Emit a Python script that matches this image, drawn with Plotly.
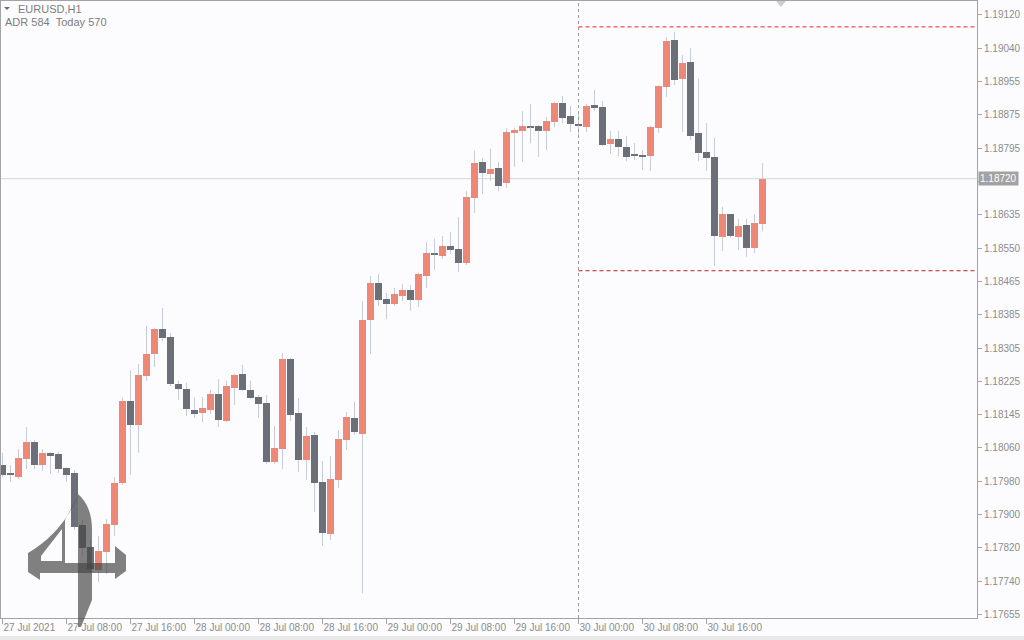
import numpy as np
import plotly.graph_objects as go

# ---------------- data ----------------
symbol = "EURUSD,H1"
adr_points = 584
today_points = 570
point = 0.00001

x_labels = ["27 Jul 2021", "27 Jul 08:00", "27 Jul 16:00", "28 Jul 00:00", "28 Jul 08:00",
            "28 Jul 16:00", "29 Jul 00:00", "29 Jul 08:00", "29 Jul 16:00", "30 Jul 00:00",
            "30 Jul 08:00", "30 Jul 16:00"]
y_labels = ["1.17655", "1.17740", "1.17820", "1.17900", "1.17980", "1.18060", "1.18145",
            "1.18225", "1.18305", "1.18385", "1.18465", "1.18550", "1.18635", "",
            "1.18795", "1.18875", "1.18955", "1.19040", "1.19120"]

opens = [1.18020, 1.18001, 1.17991, 1.18035, 1.18076, 1.18020, 1.18050, 1.18047, 1.18013, 1.18001,
         1.17874, 1.17820, 1.17764, 1.17808, 1.17874, 1.17976, 1.18177, 1.18118, 1.18238, 1.18292,
         1.18353, 1.18333, 1.18218, 1.18206, 1.18155, 1.18147, 1.18155, 1.18194, 1.18128, 1.18208,
         1.18243, 1.18204, 1.18186, 1.18172, 1.18028, 1.18059, 1.18279, 1.18147, 1.18032, 1.18094,
         1.17979, 1.17852, 1.17984, 1.18081, 1.18135, 1.18096, 1.18375, 1.18465, 1.18426, 1.18414,
         1.18433, 1.18448, 1.18424, 1.18482, 1.18536, 1.18531, 1.18556, 1.18548, 1.18514, 1.18673,
         1.18761, 1.18731, 1.18746, 1.18709, 1.18832, 1.18837, 1.18849, 1.18849, 1.18837, 1.18859,
         1.18905, 1.18873, 1.18854, 1.18846, 1.18900, 1.18895, 1.18805, 1.18817, 1.18797, 1.18780,
         1.18778, 1.18775, 1.18844, 1.18944, 1.19059, 1.18964, 1.19005, 1.18832, 1.18785, 1.18773,
         1.18578, 1.18634, 1.18578, 1.18607, 1.18551, 1.18609]
highs = [1.18050, 1.18020, 1.18059, 1.18113, 1.18081, 1.18059, 1.18052, 1.18052, 1.18015, 1.18008,
         1.17886, 1.17837, 1.17847, 1.17888, 1.17991, 1.18186, 1.18252, 1.18267, 1.18360, 1.18355,
         1.18404, 1.18343, 1.18226, 1.18221, 1.18186, 1.18186, 1.18204, 1.18230, 1.18226, 1.18243,
         1.18265, 1.18226, 1.18191, 1.18191, 1.18116, 1.18294, 1.18282, 1.18184, 1.18113, 1.18101,
         1.18030, 1.18042, 1.18106, 1.18150, 1.18174, 1.18421, 1.18482, 1.18487, 1.18441, 1.18453,
         1.18463, 1.18460, 1.18490, 1.18565, 1.18573, 1.18580, 1.18590, 1.18626, 1.18690, 1.18788,
         1.18771, 1.18793, 1.18761, 1.18844, 1.18844, 1.18885, 1.18903, 1.18851, 1.18871, 1.18907,
         1.18922, 1.18898, 1.18883, 1.18903, 1.18937, 1.18910, 1.18837, 1.18837, 1.18824, 1.18807,
         1.18790, 1.18849, 1.18949, 1.19066, 1.19079, 1.19022, 1.19039, 1.18964, 1.18856, 1.18819,
         1.18651, 1.18634, 1.18622, 1.18622, 1.18634, 1.18758]
lows = [1.17991, 1.17979, 1.17986, 1.18010, 1.18010, 1.18006, 1.17998, 1.18001, 1.17979, 1.17861,
        1.17798, 1.17759, 1.17734, 1.17754, 1.17847, 1.17971, 1.17996, 1.18050, 1.18226, 1.18260,
        1.18323, 1.18213, 1.18179, 1.18140, 1.18135, 1.18125, 1.18145, 1.18113, 1.18125, 1.18167,
        1.18201, 1.18182, 1.18135, 1.18023, 1.18023, 1.18010, 1.18128, 1.18003, 1.17984, 1.17905,
        1.17822, 1.17837, 1.17964, 1.18057, 1.18094, 1.17707, 1.18292, 1.18409, 1.18377, 1.18409,
        1.18421, 1.18397, 1.18406, 1.18453, 1.18497, 1.18524, 1.18536, 1.18492, 1.18509, 1.18636,
        1.18683, 1.18714, 1.18690, 1.18697, 1.18749, 1.18761, 1.18807, 1.18773, 1.18790, 1.18846,
        1.18856, 1.18834, 1.18824, 1.18834, 1.18885, 1.18800, 1.18780, 1.18775, 1.18763, 1.18766,
        1.18741, 1.18739, 1.18832, 1.18920, 1.18949, 1.18834, 1.18815, 1.18763, 1.18739, 1.18507,
        1.18543, 1.18575, 1.18546, 1.18529, 1.18538, 1.18592]
closes = [1.17996, 1.17996, 1.18037, 1.18076, 1.18020, 1.18050, 1.18042, 1.18010, 1.17996, 1.17869,
          1.17817, 1.17766, 1.17810, 1.17876, 1.17976, 1.18177, 1.18118, 1.18240, 1.18292, 1.18353,
          1.18331, 1.18218, 1.18206, 1.18157, 1.18145, 1.18160, 1.18194, 1.18130, 1.18213, 1.18240,
          1.18204, 1.18184, 1.18169, 1.18028, 1.18062, 1.18279, 1.18142, 1.18032, 1.18091, 1.17976,
          1.17854, 1.17986, 1.18084, 1.18138, 1.18101, 1.18375, 1.18465, 1.18424, 1.18414, 1.18438,
          1.18448, 1.18424, 1.18487, 1.18538, 1.18534, 1.18556, 1.18546, 1.18514, 1.18675, 1.18758,
          1.18734, 1.18744, 1.18702, 1.18834, 1.18839, 1.18849, 1.18846, 1.18837, 1.18861, 1.18905,
          1.18868, 1.18854, 1.18849, 1.18898, 1.18893, 1.18802, 1.18817, 1.18797, 1.18773, 1.18775,
          1.18773, 1.18846, 1.18947, 1.19057, 1.18961, 1.19003, 1.18824, 1.18783, 1.18771, 1.18580,
          1.18634, 1.18580, 1.18604, 1.18551, 1.18612, 1.18720]
bars_per_label = 8
today_start = 72  # first bar of 30 Jul

# ---------------- styling ----------------
W, H = 1024, 640
ML, MR, MT, MB = 1, 47, 1, 22
BG = "#FCFCFE"
BULL = "#EE8775"
BEAR = "#6B7078"
WICK = "#C6CBD7"
AXIS = "#A3A3A3"
TXT = "#8C8C8C"
FONT = "Liberation Sans"

n = len(opens)
idx = np.arange(n)
o = np.array(opens); h = np.array(highs); l = np.array(lows); c = np.array(closes)

pw = W - ML - MR
ph = H - MT - MB
x0 = -1.5 / 8
x1 = x0 + pw / 8
y_lo = 1.176463
y_hi = 1.191542


def P(px, py):
    return (px - ML) / pw, (H - MB - py) / ph


def path(cmds):
    out = []
    for cmd in cmds:
        if cmd[0] == "Z":
            out.append("Z")
            continue
        letter, pts = cmd[0], cmd[1:]
        s = letter + " " + " ".join("%.5f,%.5f" % P(*pt) for pt in pts)
        out.append(s)
    return " ".join(out)


fig = go.Figure()

# bodies
min_h = 0.000035
base = np.minimum(o, c)
height = np.maximum(np.abs(c - o), min_h)
top = base + height
colors = [BULL if c[i] > o[i] else BEAR for i in range(n)]

# wicks (upper and lower parts only, so they never cross the body)
wx, wy = [], []
for i in range(n):
    if h[i] > top[i]:
        wx += [i, i, None]
        wy += [top[i], h[i], None]
    if l[i] < base[i]:
        wx += [i, i, None]
        wy += [l[i], base[i], None]
fig.add_trace(go.Scatter(x=wx, y=wy, mode="lines", line=dict(color=WICK, width=1),
                         hoverinfo="skip", showlegend=False))

fig.add_trace(go.Bar(x=idx, y=height, base=base, width=0.86,
                     marker=dict(color=colors, line=dict(width=0)),
                     hoverinfo="skip", showlegend=False))

# day/ADR lines
day_high = h[today_start:].max()
day_low = l[today_start:].min()
adr = adr_points * point
shapes = [
    dict(type="line", xref="x", yref="paper", x0=today_start, x1=today_start, y0=0, y1=1,
         line=dict(color="#9A9A9A", width=1, dash="3px,3px")),
    dict(type="line", xref="x", yref="y", x0=today_start, x1=x1, y0=day_low + adr, y1=day_low + adr,
         line=dict(color="#E3261F", width=1, dash="4px,3px")),
    dict(type="line", xref="x", yref="y", x0=today_start, x1=x1, y0=day_high - adr, y1=day_high - adr,
         line=dict(color="#C0201A", width=1, dash="4px,3px")),
    dict(type="line", xref="paper", yref="y", x0=0, x1=1, y0=closes[-1], y1=closes[-1],
         line=dict(color="#D6D6D6", width=1), layer="below"),
]

# chart-shift marker
shapes.append(dict(type="path", xref="paper", yref="paper",
                   path=path([("M", (776, 1)), ("L", (786, 1)), ("L", (781, 7)), ("Z",)]),
                   fillcolor="#CDCDCD", line=dict(width=0)))
# small triangle before symbol
shapes.append(dict(type="path", xref="paper", yref="paper",
                   path=path([("M", (4, 7)), ("L", (10, 7)), ("L", (7, 10)), ("Z",)]),
                   fillcolor="#6E6E6E", line=dict(width=0)))

# watermark logo
logo_col = "rgba(70,70,70,0.68)"
left_part = path([("M", (78, 496)), ("Q", (62, 533), (28, 553)), ("L", (28, 572)), ("L", (40, 580)),
                  ("L", (40, 573)), ("L", (115, 573)), ("L", (115, 579)), ("L", (126, 571)),
                  ("L", (126, 555)), ("L", (115, 546)), ("L", (115, 563)), ("L", (65, 563)),
                  ("L", (65, 520)), ("Z",),
                  ("M", (41, 556)), ("L", (62, 529)), ("L", (62, 561)), ("L", (41, 561)), ("Z",)])
shapes.append(dict(type="path", xref="paper", yref="paper", path=left_part, fillrule="evenodd",
                   fillcolor=logo_col, line=dict(width=0), layer="above"))
stem = path([("M", (78, 494)), ("Q", (92, 506), (92, 530)), ("L", (92, 600)), ("L", (81, 627)),
             ("L", (78, 627)), ("Z",)])
shapes.append(dict(type="path", xref="paper", yref="paper", path=stem,
                   fillcolor=logo_col, line=dict(width=0), layer="above"))

# bottom strip
shapes.append(dict(type="rect", xref="paper", yref="paper", x0=P(0, 0)[0], x1=P(W, 0)[0],
                   y0=P(0, 640)[1], y1=P(0, 636)[1], fillcolor="#E9E9E9", line=dict(width=0)))

annotations = [
    dict(xref="paper", yref="paper", x=P(16, 0)[0], y=P(0, 9)[1], xanchor="left", yanchor="middle",
         text=symbol, showarrow=False, font=dict(family=FONT, size=11, color="#7C7C7C")),
    dict(xref="paper", yref="paper", x=P(3, 0)[0], y=P(0, 22)[1], xanchor="left", yanchor="middle",
         text="ADR %d\u00a0\u00a0Today %d" % (adr_points, today_points), showarrow=False,
         font=dict(family=FONT, size=11, color="#7C7C7C")),
    dict(xref="paper", yref="y", x=1, y=closes[-1], xanchor="left", yanchor="middle", xshift=1,
         text="%.5f" % closes[-1], showarrow=False, bgcolor="#A2A2A2", borderpad=1,
         font=dict(family=FONT, size=10, color="#FFFFFF")),
]

fig.update_layout(
    width=W, height=H, margin=dict(l=ML, r=MR, t=MT, b=MB, autoexpand=False),
    paper_bgcolor=BG, plot_bgcolor=BG, barmode="overlay", bargap=0,
    showlegend=False, shapes=shapes, annotations=annotations,
    xaxis=dict(range=[x0, x1], tickvals=list(range(0, n, bars_per_label)), ticktext=x_labels,
               ticks="outside", ticklen=5, tickcolor=AXIS, showline=True, linecolor=AXIS,
               mirror=True, showgrid=False, zeroline=False, ticklabelposition="outside right",
               automargin=False, tickfont=dict(family=FONT, size=10, color=TXT)),
    yaxis=dict(range=[y_lo, y_hi], side="right", tickvals=list(np.linspace(1.17655, 1.19120, 19)),
               ticktext=y_labels, ticks="outside", ticklen=4, tickcolor=AXIS, showline=True,
               linecolor=AXIS, mirror=True, showgrid=False, zeroline=False, automargin=False,
               tickfont=dict(family=FONT, size=10, color=TXT)),
)

fig.write_html("out.html", config={"displayModeBar": False},
               post_script="document.body.style.margin='0';document.body.style.padding='0';"
                           "document.body.style.overflow='hidden';document.body.style.background='%s';" % BG)
